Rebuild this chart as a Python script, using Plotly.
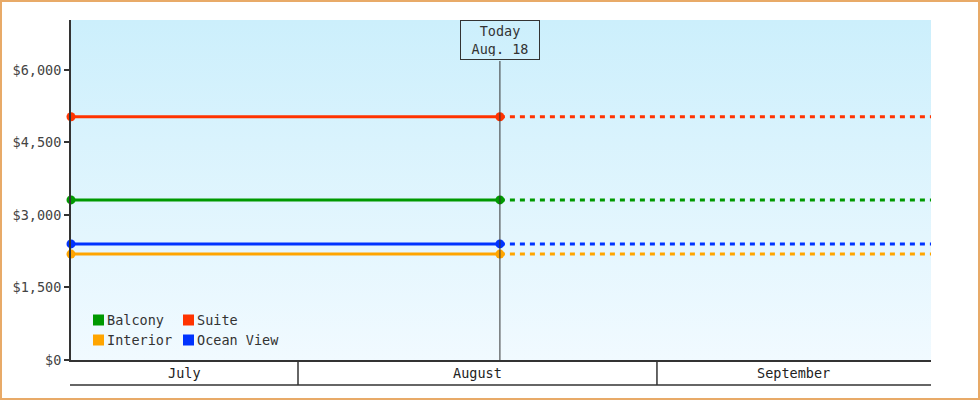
import base64
from datetime import datetime

import plotly.graph_objects as go

# cabin prices (flat)
cabins = ["Balcony", "Suite", "Interior", "Ocean View"]
prices = [3310, 5030, 2190, 2400]
colors = ["#009900", "#ff3300", "#ffa500", "#0033ff"]

x_start = "2024-07-12 09:30"
today = "2024-08-18 10:30"
x_end = "2024-09-24 16:00"

month_starts = ["2024-07-01", "2024-08-01", "2024-09-01", "2024-10-01"]
month_names = ["July", "August", "September"]

y_ticks = [0, 1500, 3000, 4500, 6000]
y_max = 7030

FONT = "DejaVu Sans Mono"
FS = 13.5
L, R, T, B = 71, 49, 20, 40
W, H = 980 - L - R, 400 - T - B


def px(x):
    return (x - L) / W


def py(y):
    return (T + H - y) / H


fig = go.Figure()

for name, val, col in zip(cabins, prices, colors):
    fig.add_trace(go.Scatter(
        x=[x_start, today], y=[val, val], mode="lines+markers",
        line=dict(color=col, width=3),
        marker=dict(color=col, size=9),
        name=name, showlegend=False, cliponaxis=False,
    ))
    fig.add_trace(go.Scatter(
        x=[today, x_end], y=[val, val], mode="lines",
        line=dict(color=col, width=3, dash="5px,5px"),
        name=name, showlegend=False, hoverinfo="skip",
    ))

# gradient plot background
svg = ('<svg xmlns="http://www.w3.org/2000/svg" width="100" height="100" preserveAspectRatio="none">'
       '<defs><linearGradient id="g" x1="0" y1="0" x2="0" y2="1">'
       '<stop offset="0" stop-color="#cceffc"/><stop offset="1" stop-color="#f1faff"/>'
       '</linearGradient></defs><rect width="100" height="100" fill="url(#g)"/></svg>')
bg_src = "data:image/svg+xml;base64," + base64.b64encode(svg.encode()).decode()

shapes = []
annotations = []

# month band under the plot
row_y = -25 / H
rng0 = datetime.fromisoformat(x_start)
rng1 = datetime.fromisoformat(x_end)
for i, mname in enumerate(month_names):
    a = datetime.fromisoformat(month_starts[i])
    b = datetime.fromisoformat(month_starts[i + 1])
    if i > 0 and rng0 < a < rng1:
        shapes.append(dict(type="line", xref="x", yref="paper", x0=month_starts[i], x1=month_starts[i],
                           y0=0, y1=row_y, line=dict(color="#333", width=1.5)))
    lo, hi = max(a, rng0), min(b, rng1)
    mid = lo + (hi - lo) / 2
    annotations.append(dict(x=mid.isoformat(), y=row_y / 2, xref="x", yref="paper", text=mname,
                            showarrow=False, yanchor="middle",
                            font=dict(family=FONT, size=FS, color="#222")))
shapes.append(dict(type="line", xref="paper", yref="paper", x0=px(70), x1=1, y0=row_y, y1=row_y,
                   line=dict(color="#333", width=1.5)))

# today marker
t = datetime.fromisoformat(today)
box_bottom = py(61)
shapes.append(dict(type="line", xref="x", yref="paper", x0=today, x1=today, y0=0, y1=box_bottom,
                   line=dict(color="#333", width=1)))
annotations.append(dict(x=today, y=1, xref="x", yref="paper", xanchor="center", yanchor="top",
                        text=f"Today<br>{t:%b}. {t.day}", showarrow=False,
                        width=72, height=32, borderpad=3, bordercolor="#333", borderwidth=1,
                        font=dict(family=FONT, size=FS, color="#333")))

# legend, two columns
for i, (name, col) in enumerate(zip(cabins, colors)):
    lx = 93 + 90 * (i % 2)
    ly = 320 + 20 * (i // 2)
    shapes.append(dict(type="rect", xref="paper", yref="paper",
                       x0=px(lx), x1=px(lx + 11), y0=py(ly + 5.5), y1=py(ly - 5.5),
                       fillcolor=col, line=dict(width=0)))
    annotations.append(dict(x=px(lx + 12), y=py(ly), xref="paper", yref="paper", xanchor="left",
                            yanchor="middle", text=name, showarrow=False,
                            font=dict(family=FONT, size=FS, color="#333")))

# outer border
shapes.append(dict(type="rect", xref="paper", yref="paper",
                   x0=px(1), x1=px(979), y0=py(399), y1=py(1),
                   line=dict(color="#e8aa68", width=2)))

fig.update_layout(
    width=980, height=400,
    margin=dict(l=L, r=R, t=T, b=B),
    paper_bgcolor="white", plot_bgcolor="rgba(0,0,0,0)",
    showlegend=False,
    font=dict(family=FONT, size=FS, color="#444"),
    images=[dict(source=bg_src, xref="paper", yref="paper", x=0, y=1, sizex=1, sizey=1,
                 sizing="stretch", layer="below")],
    xaxis=dict(range=[x_start, x_end], showticklabels=False, showgrid=False, zeroline=False,
               showline=True, linecolor="#333", linewidth=1.5, ticks=""),
    yaxis=dict(range=[0, y_max], tickmode="array", tickvals=y_ticks,
               ticktext=[f"${v:,}" for v in y_ticks],
               showgrid=False, zeroline=False, showline=True, linecolor="#333", linewidth=2,
               ticks="outside", ticklen=5, tickwidth=2, tickcolor="#333",
               tickfont=dict(family=FONT, size=FS, color="#444")),
    shapes=shapes,
    annotations=annotations,
)

fig.write_html("out.html", config={"displayModeBar": False},
               post_script="document.body.style.margin='0';")
